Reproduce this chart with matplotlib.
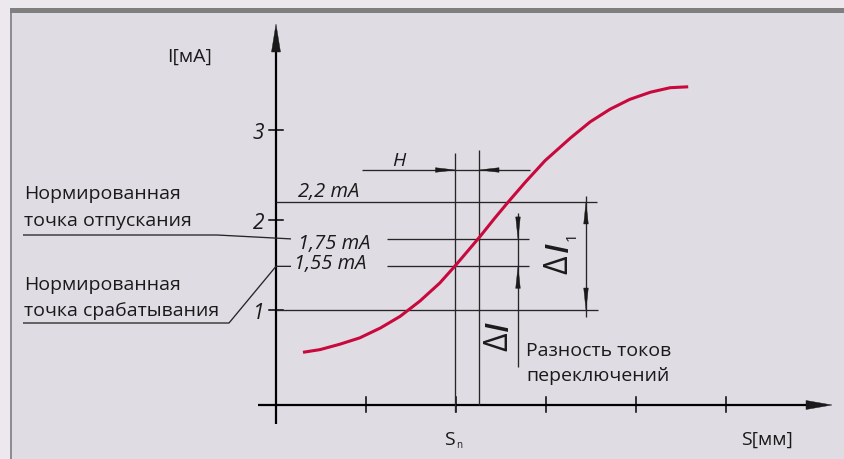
import matplotlib
matplotlib.use("Agg")
import matplotlib.pyplot as plt
from matplotlib.patches import Rectangle, Polygon

# ---------------- data (schematic units: S in tick steps, I in mA) ----------------
curve_s = [0.30, 0.49, 0.71, 0.93, 1.16, 1.38, 1.60, 1.82, 1.99, 2.16, 2.27,
           2.43, 2.58, 2.77, 2.99, 3.27, 3.49, 3.71, 3.93, 4.16, 4.38, 4.58]
curve_i = [0.53, 0.56, 0.62, 0.69, 0.80, 0.93, 1.10, 1.30, 1.49, 1.69, 1.82,
           2.02, 2.20, 2.42, 2.66, 2.91, 3.09, 3.23, 3.34, 3.42, 3.47, 3.48]
y_ticks = [1, 2, 3]
y_tick_labels = ["1", "2", "3"]
x_ticks = [1, 2, 3, 4, 5]
s_n = 1.994            # nominal switching distance
s_release = 2.256      # release distance
level_values = [2.2, 1.79, 1.485]
level_labels = ["2,2 mA", "1,75 mA", "1,55 mA"]

# ---------------- helpers: reference pixel -> data ----------------
def px(x):
    return (x - 276) / 90.0

def py(y):
    return (401 - y) / 90.0

W, H = 845, 460
fig = plt.figure(figsize=(W / 100, H / 100), dpi=100)
fig.patch.set_facecolor("#ece8ee")
fig.patches.append(Rectangle((10 / W, 0), (W - 10) / W, (H - 9) / H,
                             transform=fig.transFigure, facecolor="#e0dce3",
                             edgecolor="none", zorder=-3))
fig.patches.append(Rectangle((10 / W, (H - 14) / H), (W - 10) / W, 5 / H,
                             transform=fig.transFigure, facecolor="#7f7f7f",
                             edgecolor="none", zorder=-2))
fig.patches.append(Rectangle((10 / W, 0), 2 / W, (H - 14) / H,
                             transform=fig.transFigure, facecolor="#8e8c90",
                             edgecolor="none", zorder=-2))

ax = fig.add_axes([0, 0, 1, 1])
ax.set_zorder(5)
ax.set_xlim(px(0), px(W))
ax.set_ylim(py(H), py(0))
ax.axis("off")
ax.patch.set_alpha(0)

FONT = ["Open Sans", "DejaVu Sans"]
ink = "#1a1a1a"
thin = dict(color="#262626", lw=0.95, solid_capstyle="butt")

def arrowhead(tip, direction, length, half):
    tx, ty = tip
    L, h = length / 90.0, half / 90.0
    if direction == "up":
        pts = [(tx, ty), (tx - h, ty - L), (tx + h, ty - L)]
    elif direction == "down":
        pts = [(tx, ty), (tx - h, ty + L), (tx + h, ty + L)]
    elif direction == "right":
        pts = [(tx, ty), (tx - L, ty - h), (tx - L, ty + h)]
    else:
        pts = [(tx, ty), (tx + L, ty - h), (tx + L, ty + h)]
    ax.add_patch(Polygon(pts, closed=True, facecolor=ink, edgecolor=ink, lw=0.3, zorder=5))

# ---------------- axes ----------------
x_axis_level = py(406)
ax.plot([0, 0], [py(425), py(50)], color="black", lw=1.6, solid_capstyle="butt")
arrowhead((0, py(25)), "up", 28, 4.5)
ax.plot([px(258), px(810)], [x_axis_level] * 2, color="black", lw=1.6, solid_capstyle="butt")
arrowhead((px(832), x_axis_level), "right", 26, 4.5)

for t in x_ticks:
    ax.plot([t, t], [py(398), py(413)], color="black", lw=1.1)
for t, lab in zip(y_ticks, y_tick_labels):
    ax.plot([px(269), px(283)], [t, t], color="black", lw=1.1)
    ax.text(px(264), t - 8 / 90, lab, ha="right", va="baseline", fontsize=15,
            style="italic", family=FONT, color=ink)

ax.text(px(167), py(61.5), "I[мА]", ha="left", va="baseline", fontsize=14,
        family=FONT, color=ink)
ax.text(px(741), py(445), "S[мм]", ha="left", va="baseline", fontsize=14,
        family=FONT, color=ink)
ax.text(px(444), py(445), "S", ha="left", va="baseline", fontsize=14,
        family=FONT, color=ink)
ax.text(px(456), py(448), "n", ha="left", va="baseline", fontsize=7,
        family=FONT, color=ink)

# ---------------- level lines ----------------
ax.plot([0, px(597)], [level_values[0]] * 2, **thin)
ax.plot([px(387), px(529)], [level_values[1]] * 2, **thin)
ax.plot([px(387), px(529)], [level_values[2]] * 2, **thin)
ax.plot([0, px(598)], [1, 1], **thin)

ax.text(px(298), py(197), level_labels[0], ha="left", va="baseline", fontsize=14.5,
        style="italic", family=FONT, color=ink)
ax.text(px(298), py(249.5), level_labels[1], ha="left", va="baseline", fontsize=14.5,
        style="italic", family=FONT, color=ink)
ax.text(px(294), py(269), level_labels[2], ha="left", va="baseline", fontsize=14.5,
        style="italic", family=FONT, color=ink)

# vertical lines at S_n and release point
ax.plot([s_n, s_n], [py(154), py(413)], **thin)
ax.plot([s_release, s_release], [py(151), x_axis_level], **thin)

# H dimension
ax.plot([px(362), px(530)], [py(171)] * 2, **thin)
arrowhead((s_n, py(171)), "right", 20, 2.3)
arrowhead((s_release, py(171)), "left", 20, 2.3)
ax.text(px(392), py(166), "H", ha="left", va="baseline", fontsize=14,
        style="italic", family=FONT, color=ink)

# Delta I1 dimension
ax.plot([px(586), px(586)], [py(197), py(318)], **thin)
arrowhead((px(586), level_values[0]), "up", 22, 2.3)
arrowhead((px(586), 1), "down", 22, 2.3)
ax.text(px(559), py(265), "Δ", rotation=90, ha="center", va="center", fontsize=23,
        family=FONT, color=ink)
ax.text(px(559), py(247), "I", rotation=90, ha="center", va="center", fontsize=23,
        style="italic", weight="semibold", family=FONT, color=ink)
ax.text(px(572), py(237), "1", rotation=90, ha="center", va="center", fontsize=11,
        family=FONT, color=ink)

# Delta I dimension
ax.plot([px(518), px(518)], [py(214), py(368)], **thin)
arrowhead((px(518), level_values[1]), "down", 22, 2.3)
arrowhead((px(518), level_values[2]), "up", 22, 2.3)
ax.text(px(499), py(342), "Δ", rotation=90, ha="center", va="center", fontsize=23,
        family=FONT, color=ink)
ax.text(px(499), py(326), "I", rotation=90, ha="center", va="center", fontsize=23,
        style="italic", weight="semibold", family=FONT, color=ink)

ax.text(px(526), py(356), "Разность токов", ha="left", va="baseline", fontsize=14,
        family=FONT, color=ink)
ax.text(px(526), py(381.5), "переключений", ha="left", va="baseline", fontsize=14,
        family=FONT, color=ink)

# leaders and labels on the left
ax.plot([px(23), px(217), px(291)], [py(236), py(236), level_values[1]], **thin)
ax.plot([px(23), px(229), px(276), px(291)],
        [py(324), py(324), level_values[2], level_values[2]], **thin)
ax.text(px(24), py(199), "Нормированная", ha="left", va="baseline", fontsize=14,
        family=FONT, color=ink)
ax.text(px(24), py(225.7), "точка отпускания", ha="left", va="baseline", fontsize=14,
        family=FONT, color=ink)
ax.text(px(24), py(290), "Нормированная", ha="left", va="baseline", fontsize=14,
        family=FONT, color=ink)
ax.text(px(24), py(315.7), "точка срабатывания", ha="left", va="baseline", fontsize=14,
        family=FONT, color=ink)

# ---------------- curve ----------------
ax.plot(curve_s, curve_i, color="#c8093d", lw=2.2, solid_capstyle="butt",
        solid_joinstyle="round", zorder=4)

fig.savefig("out.png", dpi=100, facecolor=fig.get_facecolor())
